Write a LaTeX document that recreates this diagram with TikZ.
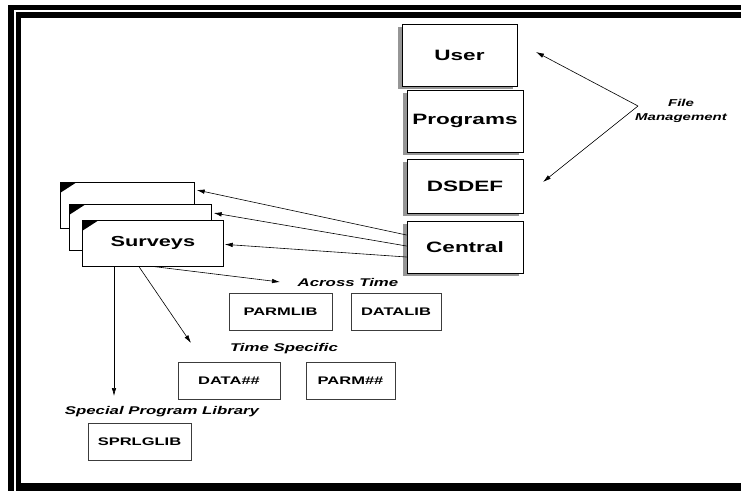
\documentclass[tikz,border=0pt]{standalone}
\usepackage{fontspec}
\setmainfont{Liberation Sans}
\newfontfamily\diafont[FakeStretch=1.5]{Liberation Sans}
\definecolor{shadegray}{RGB}{150, 150, 150}
\definecolor{edgegray}{RGB}{60, 60, 60}
\usetikzlibrary{arrows.meta, positioning, calc, shadows}

\begin{document}
\begin{tikzpicture}[x=1pt, y=-1pt,
  filebox/.style={draw=black, fill=white, line width=0.9pt, inner sep=0pt,
    font=\diafont\bfseries\fontsize{15}{17}\selectfont,
    drop shadow={shadow xshift=-4pt, shadow yshift=-3pt, fill=shadegray, opacity=1}},
  stackbox/.style={draw=black, fill=white, line width=0.7pt, inner sep=0pt, minimum height=46pt,
    font=\diafont\bfseries\fontsize{14.5}{16}\selectfont},
  libbox/.style={draw=edgegray, fill=white, line width=0.8pt, inner sep=0pt, minimum height=37pt,
    font=\diafont\bfseries\fontsize{11}{13}\selectfont},
  grouplabel/.style={font=\diafont\bfseries\itshape\fontsize{11.2}{13}\selectfont},
  conn/.style={-{Latex[length=8pt, width=4.5pt]}, line width=0.6pt}]
  \useasboundingbox (0,0) rectangle (741,491);

  % Frame
  \fill (8,5) rectangle (741,10);
  \fill (8,5) rectangle (14,491);
  \fill (16,12) rectangle (741,18);
  \fill (16,12) rectangle (21,491);
  \fill (16,483) rectangle (741,491);

  % Central files
  \node[filebox, minimum width=115pt, minimum height=62pt] (user) at (459.5, 55) {User};
  \node[filebox, minimum width=116pt, minimum height=62pt] (programs) at (465, 121) {Programs};
  \node[filebox, minimum width=116pt, minimum height=54pt] (dsdef) at (465, 186) {DSDEF};
  \node[filebox, minimum width=116pt, minimum height=52pt] (central) at (465, 247) {Central};

  % File management
  \node[font=\diafont\bfseries\itshape\fontsize{10}{14}\selectfont, align=center] (fileman) at (681, 111) {File\\Management};
  \coordinate (fmjoin) at (638, 106);
  \coordinate (fmuser) at (536, 52);
  \coordinate (fmdsdef) at (543, 182);
  \draw[conn] (fmjoin) -- (fmuser);
  \draw[conn] (fmjoin) -- (fmdsdef);

  % Survey stack
  \node[stackbox, minimum width=134pt, anchor=north west] (sback) at (60, 182) {};
  \fill (sback.north west) -- ++(17,0) -- ++(-17,11) -- cycle;
  \node[stackbox, minimum width=142pt, anchor=north west] (smid) at (69, 204) {};
  \fill (smid.north west) -- ++(17,0) -- ++(-17,11) -- cycle;
  \node[stackbox, minimum width=141pt, anchor=north west] (surveys) at (82, 220) {Surveys};
  \fill (surveys.north west) -- ++(17,0) -- ++(-17,11) -- cycle;

  \draw[conn] ($(central.west)+(0,-12)$) -- ($(sback.north east)+(2,8)$);
  \draw[conn] ($(central.west)+(0,-1)$) -- ($(smid.north east)+(2,9)$);
  \draw[conn] ($(central.west)+(0,10)$) -- ($(surveys.east)+(1,1)$);

  % Across time
  \node[grouplabel] (across) at (348, 282) {Across Time};
  \node[libbox, minimum width=103pt] (parmlib) at (280.5, 311.5) {PARMLIB};
  \node[libbox, minimum width=90pt] (datalib) at (396, 312) {DATALIB};

  % Time specific
  \node[grouplabel] (timespec) at (284, 349) {Time Specific};
  \node[libbox, minimum width=102pt] (datann) at (229, 381) {DATA\#\#};
  \node[libbox, minimum width=89pt] (parmnn) at (350.5, 381) {PARM\#\#};

  % Special library
  \node[grouplabel] (special) at (162, 412) {Special Program Library};
  \node[libbox, minimum width=103pt] (sprlglib) at (139.5, 442) {SPRLGLIB};

  \coordinate (toacross) at (280, 282);
  \coordinate (totime) at (191, 343);
  \coordinate (tospecial) at (114, 396);
  \draw[conn] ($(surveys.south west)+(73,0)$) -- (toacross);
  \draw[conn] ($(surveys.south west)+(57,0)$) -- (totime);
  \draw[conn] ($(surveys.south west)+(32,0)$) -- (tospecial);
\end{tikzpicture}
\end{document}
